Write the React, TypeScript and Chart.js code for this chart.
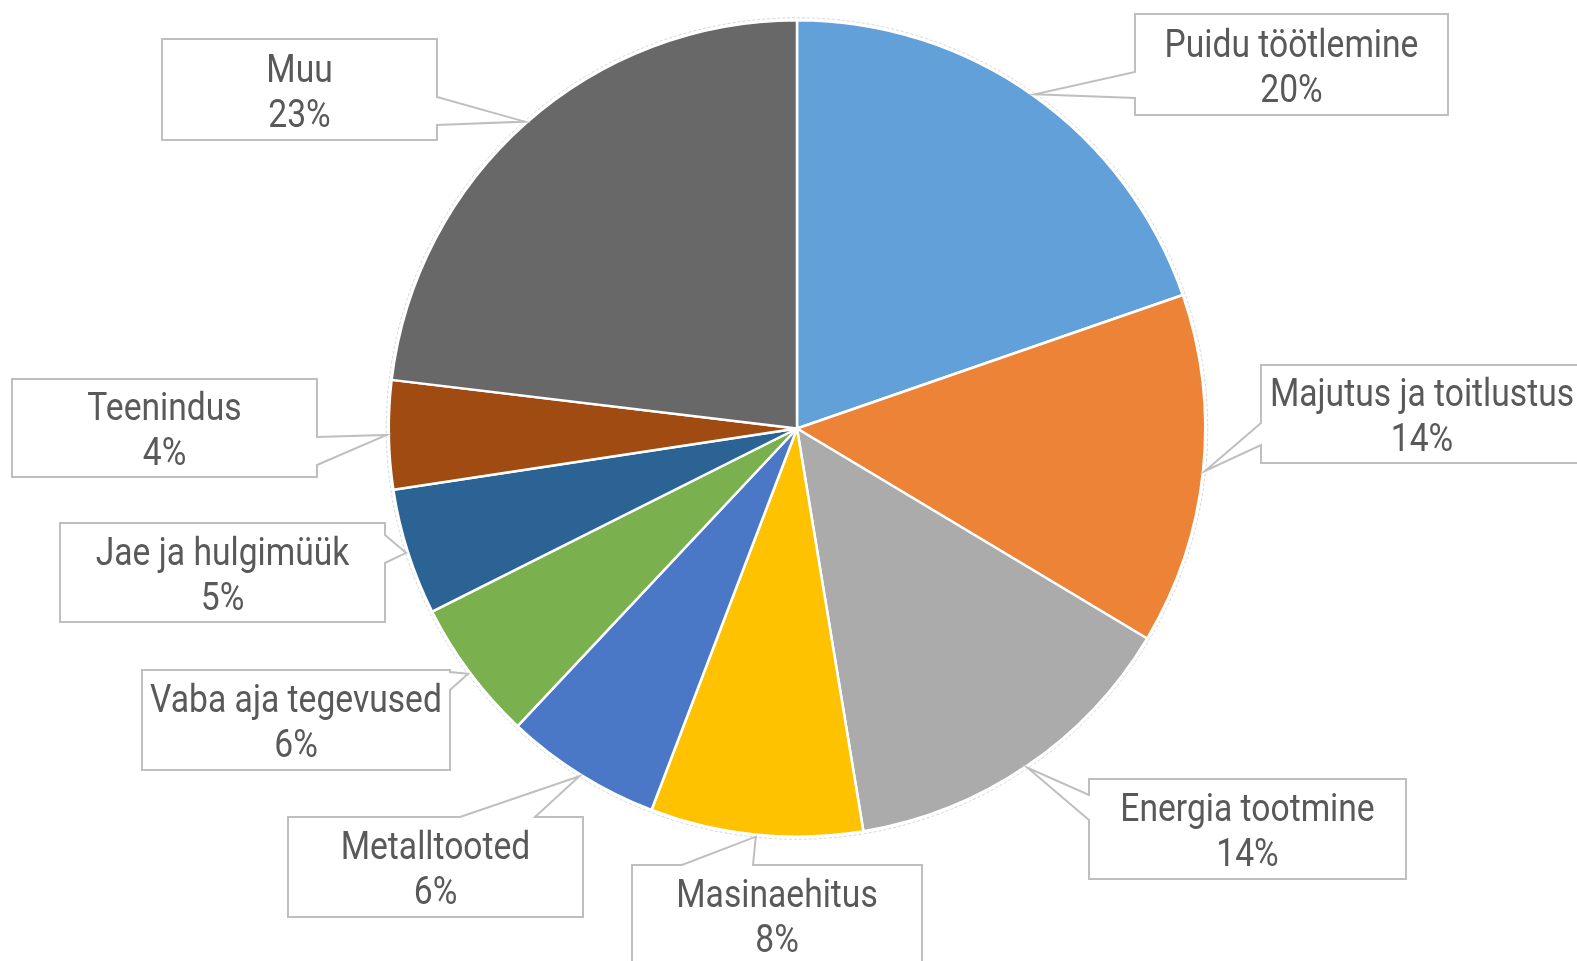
import React, { useEffect, useRef } from "react";
import { Chart, registerables } from "chart.js";

Chart.register(...registerables);

// ---- data ----
const categories = [
  "Puidu töötlemine",
  "Majutus ja toitlustus",
  "Energia tootmine",
  "Masinaehitus",
  "Metalltooted",
  "Vaba aja tegevused",
  "Jae ja hulgimüük",
  "Teenindus",
  "Muu",
];
const shares = [19.7, 13.9, 13.8, 8.4, 6.2, 5.6, 5.0, 4.3, 23.1];
const sliceColors = [
  "#61A0D8",
  "#ED8337",
  "#ABABAB",
  "#FFC200",
  "#4A78C6",
  "#7AB04E",
  "#2B6394",
  "#A04B12",
  "#686868",
];

// ---- callout layout (box edges in canvas px, wedge side and base span) ----
type Side = "left" | "right" | "top";
const calloutBoxes: [number, number, number, number][] = [
  [1135, 14, 1448, 115],
  [1261, 365, 1583, 463],
  [1089, 779, 1406, 879],
  [632, 865, 922, 965],
  [288, 817, 583, 917],
  [142, 670, 450, 770],
  [60, 523, 385, 622],
  [12, 379, 317, 477],
  [162, 39, 437, 140],
];
const calloutSides: Side[] = ["left", "left", "left", "top", "top", "right", "right", "right", "right"];
const calloutBases: [number, number][] = [
  [72, 98],
  [423, 445],
  [795, 820],
  [682, 753],
  [460, 535],
  [672, 690],
  [535, 563],
  [437, 465],
  [97, 125],
];

const FONT_SIZE = 38;
const H_SCALE = 0.885;
const LINE_GAP = 45;
const TEXT_COLOR = "#595959";
const BORDER_COLOR = "#BFBFBF";

const calloutPlugin = {
  id: "callouts",
  afterDatasetsDraw(chart: any) {
    const ctx: CanvasRenderingContext2D = chart.ctx;
    const meta = chart.getDatasetMeta(0);
    const values: number[] = chart.data.datasets[0].data;
    const total = values.reduce((a, b) => a + b, 0);
    const first = meta.data[0];
    const { x, y, outerRadius } = first.getProps(["x", "y", "outerRadius"], true);

    // faint outline around the pie
    ctx.save();
    ctx.beginPath();
    ctx.arc(x, y, outerRadius + 2.5, 0, Math.PI * 2);
    ctx.strokeStyle = "#D6D6D6";
    ctx.lineWidth = 1;
    ctx.setLineDash([3, 2]);
    ctx.stroke();
    ctx.restore();

    meta.data.forEach((el: any, i: number) => {
      const { startAngle, endAngle } = el.getProps(["startAngle", "endAngle"], true);
      const mid = (startAngle + endAngle) / 2;
      const tx = x + Math.cos(mid) * (outerRadius + 2);
      const ty = y + Math.sin(mid) * (outerRadius + 2);
      const [l, t, r, b] = calloutBoxes[i];
      const side = calloutSides[i];
      const [b0, b1] = calloutBases[i];

      ctx.save();
      ctx.beginPath();
      ctx.moveTo(l, t);
      if (side === "top") {
        ctx.lineTo(b0, t);
        ctx.lineTo(tx, ty);
        ctx.lineTo(b1, t);
      }
      ctx.lineTo(r, t);
      if (side === "right") {
        ctx.lineTo(r, b0);
        ctx.lineTo(tx, ty);
        ctx.lineTo(r, b1);
      }
      ctx.lineTo(r, b);
      ctx.lineTo(l, b);
      if (side === "left") {
        ctx.lineTo(l, b1);
        ctx.lineTo(tx, ty);
        ctx.lineTo(l, b0);
      }
      ctx.closePath();
      ctx.fillStyle = "#FFFFFF";
      ctx.fill();
      ctx.strokeStyle = BORDER_COLOR;
      ctx.lineWidth = 2;
      ctx.lineJoin = "miter";
      ctx.stroke();

      const cx = (l + r) / 2;
      const cy = (t + b) / 2;
      const pct = Math.round((values[i] / total) * 100) + "%";
      ctx.font = `${FONT_SIZE}px Roboto`;
      ctx.fillStyle = TEXT_COLOR;
      ctx.textAlign = "center";
      ctx.textBaseline = "alphabetic";
      const lines = [chart.data.labels[i], pct];
      lines.forEach((line: string, k: number) => {
        ctx.save();
        ctx.translate(cx, cy - 8 + k * LINE_GAP);
        ctx.scale(H_SCALE, 1);
        ctx.fillText(line, 0, 0);
        ctx.restore();
      });
      ctx.restore();
    });
  },
};

export default function App() {
  const canvasRef = useRef<HTMLCanvasElement | null>(null);

  useEffect(() => {
    const canvas = canvasRef.current;
    if (!canvas) return;
    const chart = new Chart(canvas, {
      type: "pie",
      data: {
        labels: categories,
        datasets: [
          {
            data: shares,
            backgroundColor: sliceColors,
            borderColor: "#FFFFFF",
            borderWidth: 2.5,
          },
        ],
      },
      options: {
        responsive: false,
        animation: false,
        layout: { padding: { top: 19, bottom: 123, left: 17, right: 0 } },
        plugins: {
          legend: { display: false },
          tooltip: { enabled: false },
        },
      },
      plugins: [calloutPlugin],
    });
    return () => chart.destroy();
  }, []);

  return (
    <div
      style={{
        position: "fixed",
        left: 0,
        top: 0,
        width: 1577,
        height: 961,
        background: "#FFFFFF",
        overflow: "hidden",
      }}
    >
      <canvas ref={canvasRef} width={1577} height={961} style={{ width: 1577, height: 961 }} />
    </div>
  );
}
